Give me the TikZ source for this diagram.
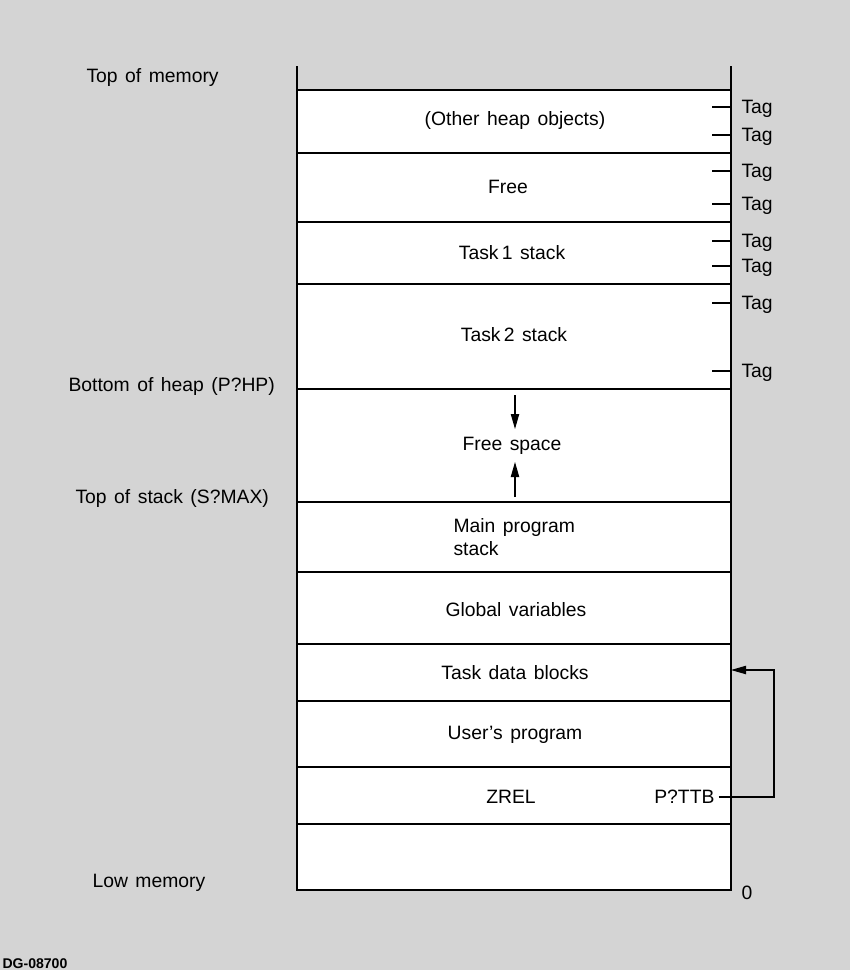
\documentclass[tikz,border=0pt]{standalone}
\usepackage{fontspec}
\setmainfont{Liberation Sans}[WordSpace=1.4]
\usetikzlibrary{arrows.meta}

\begin{document}
\begin{tikzpicture}[x=0.03cm, y=-0.03cm, line width=0.9pt,
		flow/.style={-{Triangle[length=4.5mm, width=2.5mm]}}]
			\fill[black!17] (0,0) rectangle (850,970);
			\useasboundingbox (0,0) rectangle (850,970);

			% memory column
			\fill[white] (297,90) rectangle (731,890);
			\draw (297,66) -- (297,890) -- (731,890) -- (731,66);
			\foreach \y in {90,153,222,284,389,502,572,644,701,767,824}
				\draw (297,\y) -- (731,\y);

			\begin{scope}[every node/.style={font=\fontsize{16.5}{20}\selectfont, inner sep=0pt}]
				\node (heap) at (515,120) {(Other heap objects)};
				\node (free) at (508,187) {Free};
				\node (task1) at (512,253) {Task\,1 stack};
				\node (task2) at (514,335) {Task\,2 stack};
				\node (freesp) at (512,446) {Free space};
				\node[anchor=west, align=left] (mainstk) at (453,537) {Main program\\stack};
				\node (globals) at (516,610) {Global variables};
				\node (tdb) at (515,673) {Task data blocks};
				\node (userprog) at (515,735) {User's program};
				\node (zrel) at (511,797) {ZREL};
				\node[anchor=east] (pttb) at (715,797) {P?TTB};
				\node[anchor=west] (zero) at (741,893) {0};

				\node[anchor=west] (topmem) at (86,78) {Top of memory};
				\node[anchor=west] (bottomheap) at (68,386) {Bottom of heap (P?HP)};
				\node[anchor=west] (topstack) at (75,498) {Top of stack (S?MAX)};
				\node[anchor=west] (lowmem) at (92,883) {Low memory};

				\foreach \y [count=\i] in {107,135,171,204,241,266,303,371} {
					\draw (712,\y) -- (731,\y);
					\node[anchor=west] (tag\i) at (741,\y+2) {Tag};
				}
			\end{scope}

			% growth arrows and the task table pointer
			\coordinate (heapgrow) at (515,395);
			\coordinate (heapgrowend) at (515,429);
			\coordinate (stackgrow) at (515,497);
			\coordinate (stackgrowend) at (515,462);
			\coordinate (tdbin) at (731,670);
			\draw[flow] (heapgrow) -- (heapgrowend);
			\draw[flow] (stackgrow) -- (stackgrowend);
			\draw[flow, shorten <=3pt] (pttb.east) -- (774,797) |- (tdbin);

			\node[anchor=base west, inner sep=0pt, font=\bfseries\fontsize{12}{14}\selectfont] (fig) at (2,968) {DG-08700};
		\end{tikzpicture}
\end{document}
